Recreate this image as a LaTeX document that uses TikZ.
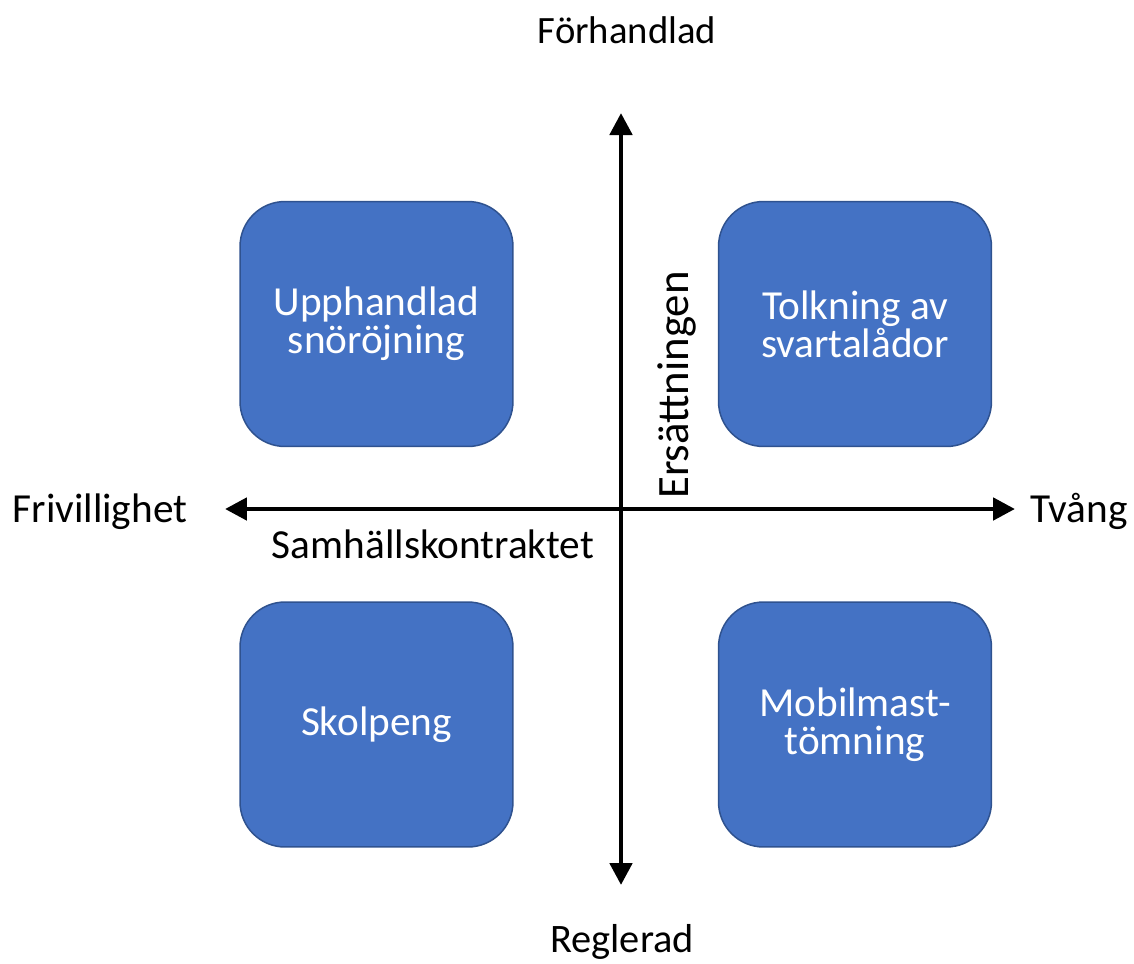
\documentclass[tikz,border=0pt]{standalone}
\usepackage{fontspec}
\setmainfont{Carlito}
\usetikzlibrary{arrows.meta}
\definecolor{boxblue}{HTML}{4472C4}
\definecolor{boxedge}{HTML}{2F528F}
\begin{document}
\begin{tikzpicture}[x=0.02cm,y=-0.02cm,line join=round,
  font=\fontsize{23.5}{21.5}\selectfont,
  box/.style={draw=boxedge,line width=0.85pt,fill=boxblue,text=white,
    rounded corners=0.9cm,minimum width=5.46cm,minimum height=4.9cm,
    align=center,inner sep=0pt},
  axis/.style={line width=2.8pt,{Triangle[length=0.44cm,width=0.44cm]}-{Triangle[length=0.44cm,width=0.44cm]}},
  lbl/.style={anchor=base,inner sep=0pt}]
\useasboundingbox (0,0) rectangle (1134,964);
% quadrants
\node[box] (ul) at (376.5,324) {Upphandlad\\snöröjning};
\node[box] (ur) at (855,324) {Tolkning av\\svartalådor};
\node[box] (ll) at (376.5,724.5) {Skolpeng};
\node[box] (lr) at (855,724.5) {Mobilmast-\\tömning};
% axes
\coordinate (top) at (621,113);
\coordinate (bottom) at (621,885);
\coordinate (left) at (225,509);
\coordinate (right) at (1015,509);
\draw[axis] (top) -- (bottom);
\draw[axis] (left) -- (right);
% labels
\node[lbl,font=\fontsize{22}{26}\selectfont] (forh) at (627,43) {Förhandlad};
\node[lbl,font=\fontsize{23}{27}\selectfont] (regl) at (622,952) {Reglerad};
\node[lbl] (friv) at (100,522) {Frivillighet};
\node[lbl] (tvang) at (1079,522) {Tvång};
\node[lbl] (samh) at (433,558) {Samhällskontraktet};
\node[lbl,rotate=90,font=\fontsize{25.5}{30}\selectfont] (ers) at (688,385) {Ersättningen};
\end{tikzpicture}
\end{document}
